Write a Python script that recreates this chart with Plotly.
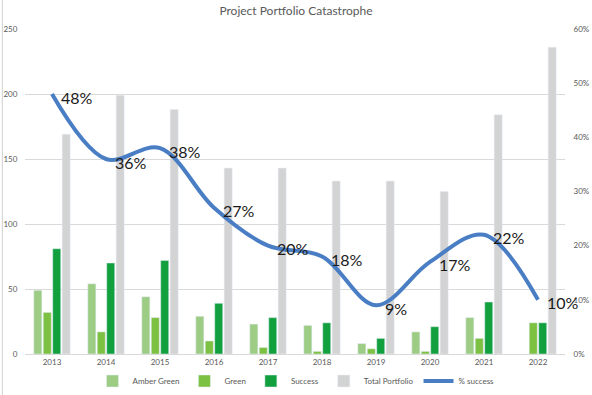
import plotly.graph_objects as go

years = ["2013", "2014", "2015", "2016", "2017", "2018", "2019", "2020", "2021", "2022"]
amber_green = [49, 54, 44, 29, 23, 22, 8, 17, 28, None]
green = [32, 17, 28, 10, 5, 2, 4, 2, 12, 24]
success = [81, 70, 72, 39, 28, 24, 12, 21, 40, 24]
total_portfolio = [169, 199, 188, 143, 143, 133, 133, 125, 184, 236]
pct_success = [0.48, 0.36, 0.38, 0.27, 0.20, 0.18, 0.09, 0.17, 0.22, 0.10]
pct_labels = ["48%", "36%", "38%", "27%", "20%", "18%", "9%", "17%", "22%", "10%"]

FONT = "Lato, Open Sans, sans-serif"
TICK = dict(family=FONT, size=8, color="#595959")

fig = go.Figure()
fig.add_trace(go.Bar(name="Amber Green", x=years, y=amber_green, marker_color="#9DCD84"))
fig.add_trace(go.Bar(name="Green", x=years, y=green, marker_color="#7DC142"))
fig.add_trace(go.Bar(name="Success", x=years, y=success, marker_color="#12A03F"))
fig.add_trace(go.Bar(name="Total Portfolio", x=years, y=total_portfolio, marker_color="#D3D3D3"))
fig.add_trace(go.Scatter(name="% success", x=years, y=pct_success, yaxis="y2", mode="lines",
                         line=dict(color="#4A7EC4", width=4, shape="spline", smoothing=1.0)))

for i, (val, lab) in enumerate(zip(pct_success, pct_labels)):
    fig.add_annotation(x=i, y=val, xref="x", yref="y2", text=lab, showarrow=False,
                       xanchor="left", yanchor="middle", xshift=7, yshift=-3,
                       font=dict(family=FONT, size=16, color="#1a1a1a"))

fig.update_layout(
    width=592, height=395,
    margin=dict(l=25, r=27, t=29, b=41, autoexpand=False),
    paper_bgcolor="white", plot_bgcolor="white",
    barmode="group", bargap=0.3, bargroupgap=0.15,
    title=dict(text="Project Portfolio Catastrophe", x=0.5, xanchor="center",
               y=1 - 11 / 395, yref="container", yanchor="middle",
               font=dict(family=FONT, size=12, color="#595959")),
    xaxis=dict(type="category", categoryorder="array", categoryarray=years,
               range=[-0.5, len(years) - 0.5],
               showline=True, linecolor="#D9D9D9", linewidth=1, automargin=False,
               ticks="", tickfont=TICK, showgrid=False),
    yaxis=dict(range=[0, 250], dtick=50, showgrid=True, gridcolor="#D9D9D9", gridwidth=1,
               tickfont=TICK, zeroline=False, showline=False, automargin=False,
               ticks="outside", ticklen=5, tickcolor="rgba(0,0,0,0)"),
    yaxis2=dict(range=[0, 0.6], dtick=0.1, tickformat=".0%", overlaying="y", side="right",
                showgrid=False, zeroline=False, tickfont=TICK, automargin=False,
                ticks="outside", ticklen=6, tickcolor="rgba(0,0,0,0)"),
    legend=dict(orientation="h", x=0.5, xanchor="center", xref="container",
                y=1 - 381 / 395, yanchor="middle", yref="container",
                font=dict(family=FONT, size=8, color="#595959"), itemwidth=30,
                traceorder="normal"),
    shapes=[dict(type="line", xref="paper", yref="paper", x0=-0.042, x1=-0.042, y0=-0.13, y1=1.09,
                 line=dict(color="#D0D0D0", width=1))],
)

fig.write_html("out.html", post_script="document.body.style.margin='0';",
               config={"displayModeBar": False})
